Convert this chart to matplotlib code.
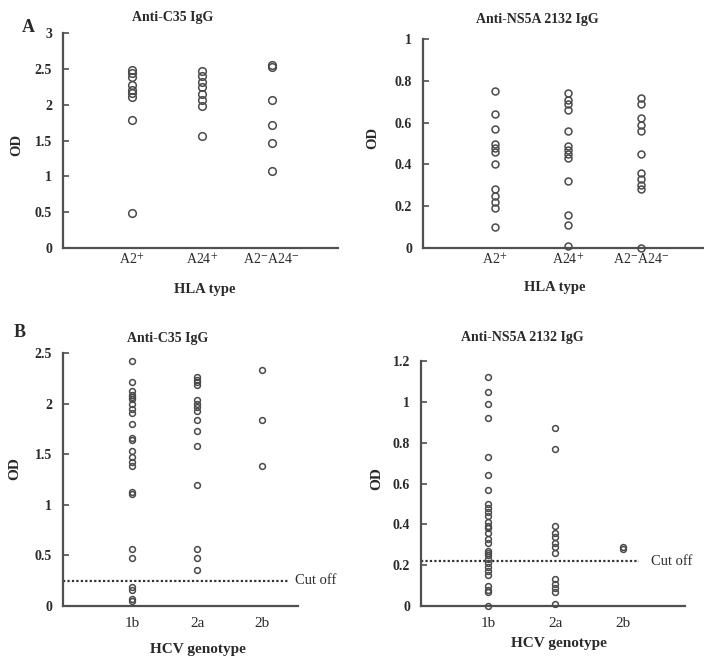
import matplotlib.pyplot as plt
import numpy as np

plt.rcParams['font.family'] = ['Liberation Serif', 'DejaVu Serif']
plt.rcParams['mathtext.fontset'] = 'stix'

# HLA type panels (A)
hla_types = ['A2$^{+}$', 'A24$^{+}$', 'A2$^{-}$A24$^{-}$']
c35_hla_a2 = [2.49, 2.44, 2.38, 2.28, 2.21, 2.16, 2.11, 1.79, 0.49]
c35_hla_a24 = [2.47, 2.40, 2.32, 2.24, 2.15, 2.06, 1.98, 1.56]
c35_hla_neg = [2.55, 2.52, 2.07, 1.72, 1.46, 1.07]
ns5a_hla_a2 = [0.75, 0.64, 0.57, 0.50, 0.48, 0.46, 0.40, 0.28, 0.25, 0.22, 0.19, 0.10]
ns5a_hla_a24 = [0.74, 0.71, 0.69, 0.66, 0.56, 0.49, 0.47, 0.45, 0.43, 0.32, 0.16, 0.11, 0.01]
ns5a_hla_neg = [0.72, 0.69, 0.62, 0.59, 0.56, 0.45, 0.36, 0.33, 0.30, 0.28, 0.0]

# HCV genotype panels (B)
genotypes = ['1b', '2a', '2b']
c35_gt_1b = [2.42, 2.21, 2.12, 2.09, 2.07, 2.05, 2.00, 1.95, 1.91, 1.80, 1.66, 1.64,
             1.53, 1.47, 1.42, 1.38, 1.13, 1.11, 0.56, 0.47, 0.19, 0.16, 0.07, 0.05]
c35_gt_2a = [2.26, 2.23, 2.21, 2.18, 2.04, 2.00, 1.97, 1.93, 1.84, 1.73, 1.58, 1.20,
             0.56, 0.47, 0.36]
c35_gt_2b = [2.33, 1.84, 1.38]
ns5a_gt_1b = [1.12, 1.05, 0.99, 0.92, 0.73, 0.64, 0.57, 0.50, 0.48, 0.46, 0.44, 0.41,
              0.39, 0.38, 0.36, 0.33, 0.31, 0.27, 0.26, 0.25, 0.23, 0.21, 0.19, 0.17,
              0.15, 0.10, 0.08, 0.07, 0.0]
ns5a_gt_2a = [0.87, 0.77, 0.39, 0.36, 0.34, 0.31, 0.29, 0.26, 0.13, 0.11, 0.09, 0.07, 0.01]
ns5a_gt_2b = [0.29, 0.28]
c35_cutoff = 0.25
ns5a_cutoff = 0.22

fig = plt.figure(figsize=(7.04, 6.58), dpi=100)
axis_col = '#505050'
text_col = '#2a2a2a'


def setup(ax, groups, labels, ylim, yticks, ytick_labels, ms, xpad, xsize):
    for i, g in enumerate(groups):
        ax.plot(np.full(len(g), i + 1), g, 'o', mfc='none', mec='#4a4a4a',
                mew=1.1, ms=ms, clip_on=False, zorder=3)
    ax.set_ylim(ylim)
    ax.set_yticks(yticks)
    ax.set_yticklabels(ytick_labels)
    ax.set_xticks([1, 2, 3])
    ax.set_xticklabels(labels)
    for s in ['top', 'right']:
        ax.spines[s].set_visible(False)
    for s in ['left', 'bottom']:
        ax.spines[s].set_color(axis_col)
        ax.spines[s].set_linewidth(1.6)
    ax.tick_params(axis='y', direction='in', length=4, width=1.2, color=axis_col,
                   labelsize=10, labelcolor=text_col, pad=8)
    ax.tick_params(axis='x', length=0, labelsize=xsize, labelcolor=text_col, pad=xpad)
    for t in ax.get_yticklabels():
        t.set_fontweight('bold')


# A left
ax1 = fig.add_axes([0.0895, 0.6231, 0.3906, 0.3267])
setup(ax1, [c35_hla_a2, c35_hla_a24, c35_hla_neg], hla_types, (0, 3),
      [0, 0.5, 1, 1.5, 2, 2.5, 3], ['0', '0.5', '1', '1.5', '2', '2.5', '3'], 5.5, 3, 10)
ax1.set_xlim(0.01, 3.95)

# A right
ax2 = fig.add_axes([0.6009, 0.6231, 0.399, 0.3176])
setup(ax2, [ns5a_hla_a2, ns5a_hla_a24, ns5a_hla_neg], hla_types, (0, 1),
      [0, 0.2, 0.4, 0.6, 0.8, 1], ['0', '0.2', '0.4', '0.6', '0.8', '1'], 5.0, 3, 10)
ax2.set_xlim(0.014, 3.86)

# B left
ax3 = fig.add_axes([0.0895, 0.079, 0.3338, 0.3845])
setup(ax3, [c35_gt_1b, c35_gt_2a, c35_gt_2b], genotypes, (0, 2.5),
      [0, 0.5, 1, 1.5, 2, 2.5], ['0', '0.5', '1', '1.5', '2', '2.5'], 4.2, 8, 11)
ax3.set_xlim(-0.06, 3.55)
ax3.plot([-0.06, 3.4], [c35_cutoff, c35_cutoff], ls=(0, (1, 1)), color='#333333', lw=1.6)
ax3.text(3.5, c35_cutoff, 'Cut off', fontsize=10.5, color=text_col, va='center', ha='left')

# B right
ax4 = fig.add_axes([0.598, 0.079, 0.375, 0.3723])
setup(ax4, [ns5a_gt_1b, ns5a_gt_2a, ns5a_gt_2b], genotypes, (0, 1.2),
      [0, 0.2, 0.4, 0.6, 0.8, 1, 1.2], ['0', '0.2', '0.4', '0.6', '0.8', '1', '1.2'],
      4.2, 8, 11)
ax4.set_xlim(0.007, 3.92)
ax4.plot([0.007, 3.24], [ns5a_cutoff, ns5a_cutoff], ls=(0, (1, 1)), color='#333333', lw=1.6)
ax4.text(3.41, ns5a_cutoff, 'Cut off', fontsize=10.5, color=text_col, va='center', ha='left')

# titles, axis labels, panel letters
W, H = 704, 658


def ftext(x, y, s, **kw):
    fig.text(x / W, 1 - y / H, s, ha='center', va='center', color=text_col, **kw)


ftext(173, 17, 'Anti-C35 IgG', fontsize=10, fontweight='bold')
ftext(537, 19, 'Anti-NS5A 2132 IgG', fontsize=10, fontweight='bold')
ftext(168, 338, 'Anti-C35 IgG', fontsize=10, fontweight='bold')
ftext(522, 337, 'Anti-NS5A 2132 IgG', fontsize=10, fontweight='bold')
ftext(205, 290, 'HLA type', fontsize=10.5, fontweight='bold')
ftext(555, 287, 'HLA type', fontsize=10.5, fontweight='bold')
ftext(198, 649, 'HCV genotype', fontsize=11, fontweight='bold')
ftext(559, 644, 'HCV genotype', fontsize=11, fontweight='bold')
ftext(17, 145, 'OD', fontsize=10.5, fontweight='bold', rotation=90)
ftext(373, 138, 'OD', fontsize=10.5, fontweight='bold', rotation=90)
ftext(15, 469, 'OD', fontsize=11, fontweight='bold', rotation=90)
ftext(377, 479, 'OD', fontsize=11, fontweight='bold', rotation=90)
ftext(28, 28, 'A', fontsize=13, fontweight='bold')
ftext(20, 333, 'B', fontsize=13, fontweight='bold')

fig.savefig('out.png', dpi=100)
